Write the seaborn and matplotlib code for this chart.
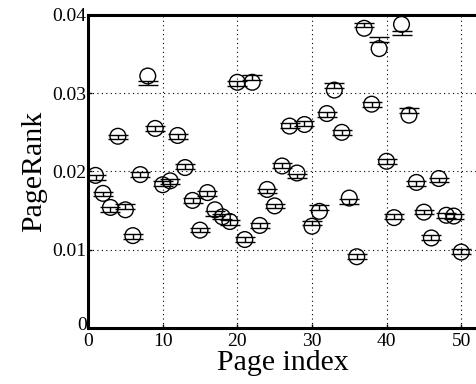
import numpy as np
import pandas as pd
import seaborn as sns
from matplotlib import pyplot as plt
from matplotlib import transforms
from matplotlib.ticker import FuncFormatter

# ページのインデックスと PageRank の値
page = np.arange(1, 51)
rank_circle = [0.0195, 0.0172, 0.0154, 0.0245, 0.0151, 0.0118, 0.0196, 0.0322, 0.0255, 0.0183,
               0.0188, 0.0246, 0.0205, 0.0163, 0.0125, 0.0173, 0.0151, 0.0142, 0.0136, 0.0314,
               0.0113, 0.0314, 0.0131, 0.0177, 0.0156, 0.0207, 0.0258, 0.0198, 0.0260, 0.0130,
               0.0149, 0.0274, 0.0304, 0.0250, 0.0166, 0.0091, 0.0383, 0.0286, 0.0357, 0.0213,
               0.0141, 0.0388, 0.0272, 0.0186, 0.0148, 0.0115, 0.0191, 0.0144, 0.0143, 0.0097]
rank_line = [0.0192, 0.0171, 0.0151, 0.0244, 0.0155, 0.0117, 0.0196, 0.0313, 0.0255, 0.0185,
             0.0187, 0.0245, 0.0206, 0.0163, 0.0125, 0.0172, 0.0146, 0.0142, 0.0135, 0.0312,
             0.0113, 0.0320, 0.0131, 0.0175, 0.0156, 0.0208, 0.0259, 0.0194, 0.0261, 0.0134,
             0.0154, 0.0273, 0.0310, 0.0250, 0.0162, 0.0091, 0.0387, 0.0286, 0.0369, 0.0213,
             0.0142, 0.0377, 0.0278, 0.0185, 0.0148, 0.0116, 0.0189, 0.0144, 0.0142, 0.0098]
rank_err = [0.0003] * 50

df = pd.DataFrame({"page": page, "circle": rank_circle, "line": rank_line, "err": rank_err})

plt.rcParams["font.family"] = ["Liberation Serif", "DejaVu Serif"]

fig = plt.figure(figsize=(4.76, 3.84), dpi=100)
ax = fig.add_axes([0.185, 0.146, 0.82, 0.815])

ax.errorbar(df["page"], df["line"], yerr=df["err"], fmt="none", ecolor="black",
            elinewidth=1.0, capsize=7.5, capthick=1.0, zorder=3)
sns.scatterplot(data=df, x="page", y="circle", ax=ax, marker="o", s=128,
                facecolor="none", edgecolor="black", linewidth=1.0, zorder=4)

ax.set_xlim(0, 52.3)
ax.set_ylim(0, 0.04)
ax.set_xticks(np.arange(0, 51, 10))
ax.set_yticks(np.arange(0, 0.041, 0.01))
ax.yaxis.set_major_formatter(FuncFormatter(lambda v, p: "0" if v == 0 else f"{v:.2f}"))
ax.grid(True, color="black", linestyle=(0, (1, 3)), linewidth=0.8)
ax.set_axisbelow(True)
for s in ax.spines.values():
    s.set_linewidth(2.2)
ax.tick_params(direction="in", length=3, width=1, labelsize=14)
ax.tick_params(axis="x", pad=4)
ax.tick_params(axis="y", pad=1)
ax.set_xlabel("Page index", fontsize=21.5, labelpad=0)
ax.set_ylabel("PageRank", fontsize=21.5, labelpad=4)

# 原点の「0」を少し上へずらす
fig.canvas.draw()
lab0 = ax.get_yticklabels()[0]
lab0.set_transform(lab0.get_transform() + transforms.ScaledTranslation(0, 3 / 72, fig.dpi_scale_trans))

plt.savefig("out.png", dpi=100)
